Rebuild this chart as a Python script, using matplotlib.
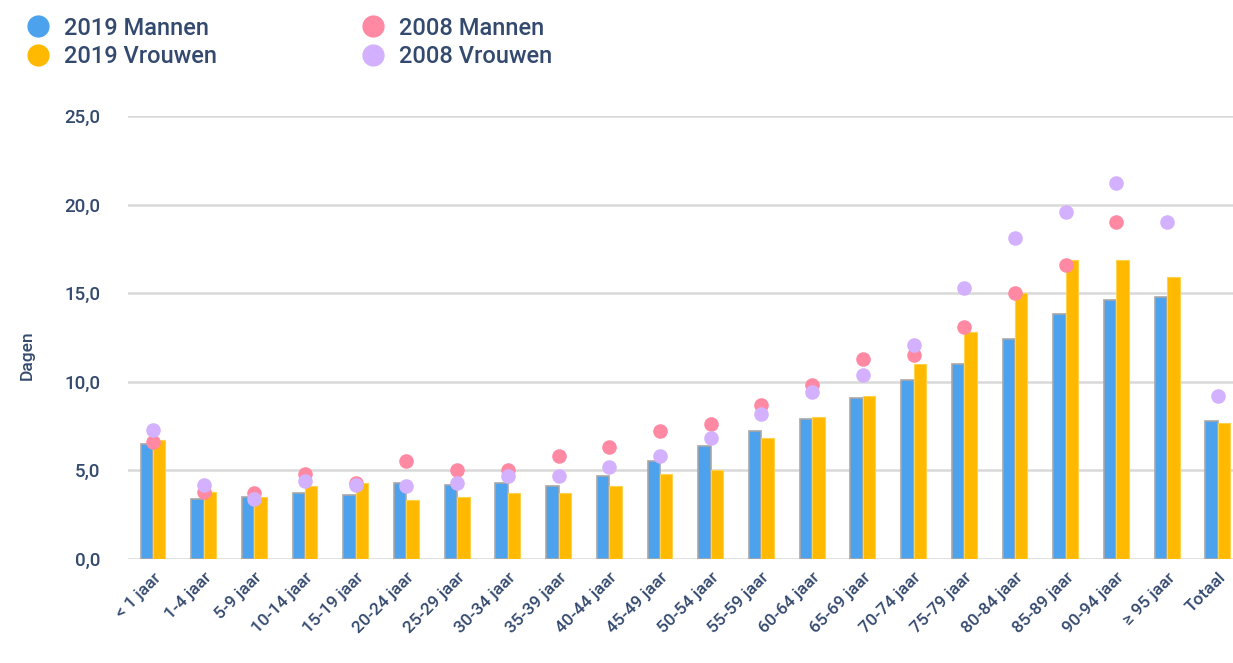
import numpy as np
import matplotlib.pyplot as plt
from matplotlib.lines import Line2D

# leeftijdsgroepen en gemiddelde ligduur (dagen)
groepen = ["< 1 jaar", "1-4 jaar", "5-9 jaar", "10-14 jaar", "15-19 jaar", "20-24 jaar",
           "25-29 jaar", "30-34 jaar", "35-39 jaar", "40-44 jaar", "45-49 jaar", "50-54 jaar",
           "55-59 jaar", "60-64 jaar", "65-69 jaar", "70-74 jaar", "75-79 jaar", "80-84 jaar",
           "85-89 jaar", "90-94 jaar", "\u2265 95 jaar", "Totaal"]

mannen_2019 = [6.5, 3.4, 3.5, 3.7, 3.6, 4.3, 4.2, 4.3, 4.1, 4.7, 5.5, 6.4,
               7.2, 7.9, 9.1, 10.1, 11.0, 12.4, 13.8, 14.6, 14.8, 7.8]
vrouwen_2019 = [6.7, 3.8, 3.5, 4.1, 4.3, 3.3, 3.5, 3.7, 3.7, 4.1, 4.8, 5.0,
                6.8, 8.0, 9.2, 11.0, 12.8, 15.0, 16.9, 16.9, 15.9, 7.7]
mannen_2008 = [6.6, 3.8, 3.7, 4.8, 4.3, 5.5, 5.0, 5.0, 5.8, 6.3, 7.2, 7.6,
               8.7, 9.8, 11.3, 11.5, 13.1, 15.0, 16.6, 19.0, np.nan, np.nan]
vrouwen_2008 = [7.3, 4.2, 3.4, 4.4, 4.2, 4.1, 4.3, 4.7, 4.7, 5.2, 5.8, 6.8,
                8.2, 9.4, 10.4, 12.1, 15.3, 18.1, 19.6, 21.2, 19.0, 9.2]

c_m19 = "#4DA2EE"
c_v19 = "#FFB900"
c_m08 = "#FF88A2"
c_v08 = "#D3B1FE"
tekst = "#34496E"

plt.rcParams['font.family'] = ['Roboto', 'DejaVu Sans']

fig = plt.figure(figsize=(12.33, 6.63), dpi=100)
ax = fig.add_axes([0.104, 0.157, 0.896, 0.668])

x = np.arange(len(groepen))
w = 0.245

ax.bar(x - w / 2, mannen_2019, w, color=c_m19, edgecolor="#A8A8A8", linewidth=1.2, zorder=3)
ax.bar(x + w / 2, vrouwen_2019, w, color=c_v19, edgecolor="#FFD24D", linewidth=0.8, zorder=3)
ax.scatter(x, mannen_2008, s=110, color=c_m08, linewidths=0, zorder=4)
ax.scatter(x, vrouwen_2008, s=110, color=c_v08, linewidths=0, zorder=5)

ax.set_xlim(-0.487, 21.3)
ax.set_ylim(0, 25)
ax.set_yticks(np.arange(0, 26, 5))
ax.set_yticklabels([f"{v:.1f}".replace(".", ",") for v in np.arange(0, 26, 5)],
                   fontsize=13.5, color=tekst, fontweight="medium")
ax.set_xticks(x)
ax.set_xticklabels(groepen, rotation=45, ha="right", rotation_mode="anchor",
                   fontsize=12.5, color=tekst, fontweight="medium")
ax.tick_params(axis="both", length=0)
ax.tick_params(axis="y", pad=20)
ax.tick_params(axis="x", pad=8)

ax.grid(axis="y", color="#D9D9D9", linewidth=1.8, zorder=0)
for s in ax.spines.values():
    s.set_visible(False)

ax.set_ylabel("Dagen", fontsize=12.5, color=tekst, fontweight="medium")
ax.yaxis.set_label_coords(-0.085, 0.46)

handles = [Line2D([], [], marker="o", ls="", markersize=15, color=c_m19, label="2019 Mannen"),
           Line2D([], [], marker="o", ls="", markersize=15, color=c_v19, label="2019 Vrouwen"),
           Line2D([], [], marker="o", ls="", markersize=15, color=c_m08, label="2008 Mannen"),
           Line2D([], [], marker="o", ls="", markersize=15, color=c_v08, label="2008 Vrouwen")]
leg = fig.legend(handles=handles, ncol=2, loc="upper left", bbox_to_anchor=(0.002, 1.007),
                 frameon=False, fontsize=17, handletextpad=0.5, columnspacing=6.0,
                 labelspacing=0.22, handlelength=1.2)
for t in leg.get_texts():
    t.set_color(tekst)
    t.set_fontweight("medium")

fig.savefig("out.png", dpi=100)
